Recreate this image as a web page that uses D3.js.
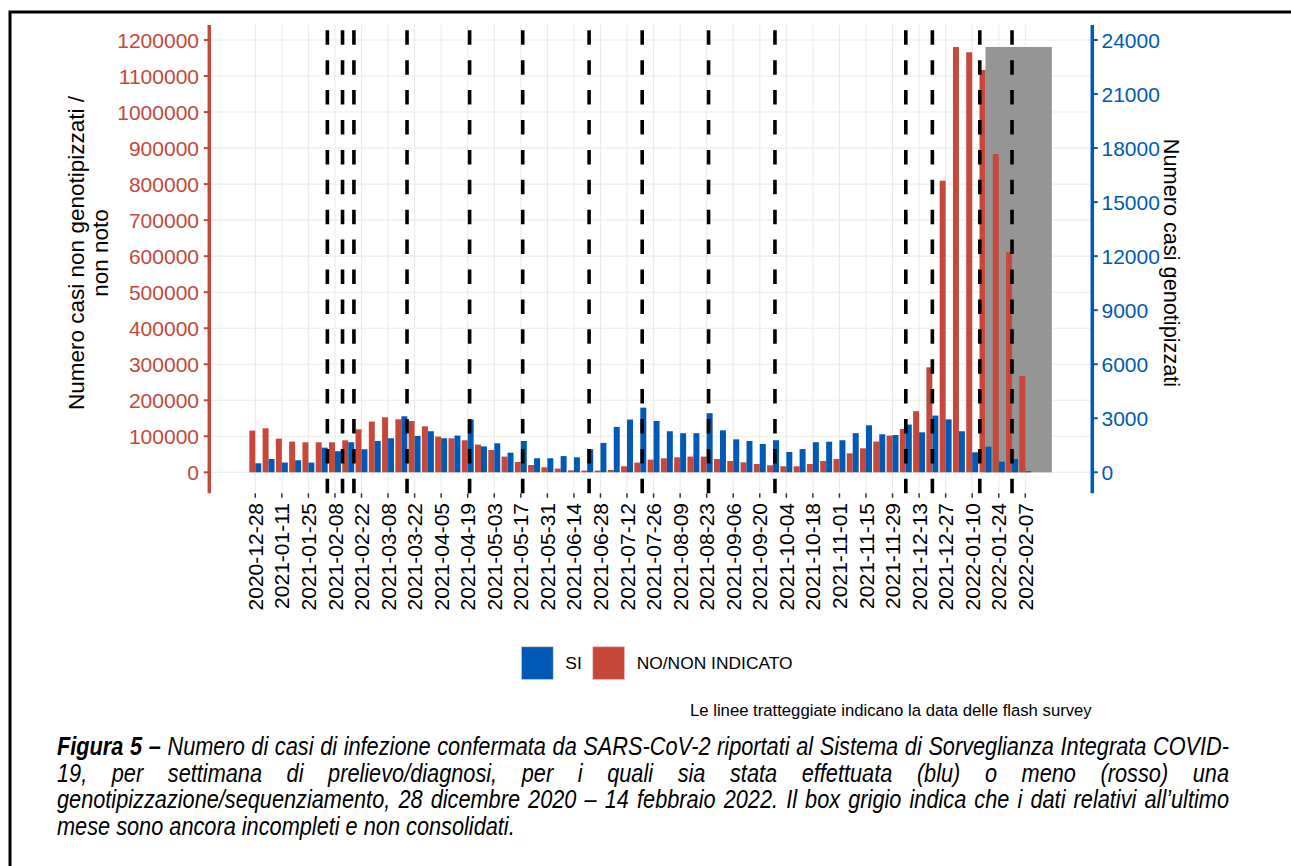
<!DOCTYPE html>
<html>
<head>
<meta charset="utf-8">
<script src="https://cdn.jsdelivr.net/npm/d3@7"></script>
<style>
  body { margin: 0; background: #fff; }
  svg { display: block; }
</style>
</head>
<body>
<svg id="chart" width="1291" height="866"></svg>
<script>
// weekly data, week of sampling / diagnosis
const weeks = [
    "2020-12-28", "2021-01-04", "2021-01-11", "2021-01-18", "2021-01-25", "2021-02-01",
    "2021-02-08", "2021-02-15", "2021-02-22", "2021-03-01", "2021-03-08", "2021-03-15",
    "2021-03-22", "2021-03-29", "2021-04-05", "2021-04-12", "2021-04-19", "2021-04-26",
    "2021-05-03", "2021-05-10", "2021-05-17", "2021-05-24", "2021-05-31", "2021-06-07",
    "2021-06-14", "2021-06-21", "2021-06-28", "2021-07-05", "2021-07-12", "2021-07-19",
    "2021-07-26", "2021-08-02", "2021-08-09", "2021-08-16", "2021-08-23", "2021-08-30",
    "2021-09-06", "2021-09-13", "2021-09-20", "2021-09-27", "2021-10-04", "2021-10-11",
    "2021-10-18", "2021-10-25", "2021-11-01", "2021-11-08", "2021-11-15", "2021-11-22",
    "2021-11-29", "2021-12-06", "2021-12-13", "2021-12-20", "2021-12-27", "2022-01-03",
    "2022-01-10", "2022-01-17", "2022-01-24", "2022-01-31", "2022-02-07"
]
// NO/NON INDICATO (left axis)
const nonGenotyped = [
    115700, 122100, 93500, 85200, 83300, 83300, 83300, 88800, 119400, 140700,
    152700, 147100, 142400, 127700, 99100, 94400, 88800, 76900, 61900, 43600,
    28600, 20300, 13900, 10200, 5500, 4700, 4700, 6400, 16700, 27000,
    35200, 38900, 41600, 43600, 43600, 36900, 31400, 27800, 23000, 19400,
    16700, 16700, 23000, 31400, 36900, 52700, 66600, 85200, 101900, 120200,
    169700, 291500, 809500, 1180600, 1165900, 1116800, 883600, 611500, 267300
]
// SI (right axis)
const genotyped = [
    500, 740, 540, 670, 540, 1370, 1170, 1670, 1280, 1740,
    1890, 3110, 2020, 2280, 1890, 2040, 2930, 1440, 1610, 1090,
    1740, 780, 780, 900, 830, 1280, 1630, 2520, 2930, 3590,
    2850, 2280, 2170, 2170, 3280, 2330, 1830, 1740, 1570, 1780,
    1130, 1290, 1670, 1700, 1780, 2170, 2610, 2110, 2070, 2650,
    2220, 3150, 2940, 2280, 1110, 1420, 590, 740, 60
]
const surveyDates = [
    "2021-02-04", "2021-02-12", "2021-02-18", "2021-03-18", "2021-04-20", "2021-05-18",
    "2021-06-22", "2021-07-20", "2021-08-24", "2021-09-28", "2021-12-06", "2021-12-20",
    "2022-01-14", "2022-01-31"
]
const xTickLabels = weeks.filter((_, i) => i % 2 == 0)
const leftTicks = [0, 100000, 200000, 300000, 400000, 500000, 600000, 700000, 800000, 900000, 1000000, 1100000, 1200000]
const rightTicks = [0, 3000, 6000, 9000, 12000, 15000, 18000, 21000, 24000]
const incompleteBox = ["2022-01-17", "2022-02-21"]

const RED = "#c5483a"
const BLUE = "#005ab5"
const FONT = "'Liberation Sans', Arial, sans-serif"

const parse = d3.timeParse("%Y-%m-%d")

function drawChart() {
    const svg = d3.select("#chart")
    const left = 209.3, right = 1092.3, top = 25, bottom = 493.3

    svg.append("rect").attr("width", 1291).attr("height", 866).attr("fill", "white")

    // frame
    svg.append("path")
        .attr("d", "M10,866 L10,12 L1291,12")
        .attr("fill", "none").attr("stroke", "black").attr("stroke-width", 3)

    const x = d3.scaleTime()
        .domain([parse(weeks[0]), parse(weeks[weeks.length - 1])])
        .range([255.3, 1025.3])
    const yL = d3.scaleLinear().domain([0, 1200000]).range([472.3, 40])
    const yR = d3.scaleLinear().domain([0, 24000]).range([472.3, 40])
    const halfW = (x(parse(weeks[1])) - x(parse(weeks[0]))) * 0.45

    // grid
    svg.append("g").selectAll("line")
        .data(leftTicks)
        .enter().append("line")
        .attr("x1", left).attr("x2", right)
        .attr("y1", d => yL(d)).attr("y2", d => yL(d))
        .attr("stroke", "#ebebe6").attr("stroke-width", 1.1)
    svg.append("g").selectAll("line")
        .data(xTickLabels)
        .enter().append("line")
        .attr("x1", d => x(parse(d))).attr("x2", d => x(parse(d)))
        .attr("y1", top).attr("y2", bottom)
        .attr("stroke", "#ebebe6").attr("stroke-width", 1.1)

    // grey box: last month still incomplete
    svg.append("rect")
        .attr("x", x(parse(incompleteBox[0])))
        .attr("width", x(parse(incompleteBox[1])) - x(parse(incompleteBox[0])))
        .attr("y", yL(d3.max(nonGenotyped)))
        .attr("height", yL(0) - yL(d3.max(nonGenotyped)))
        .attr("fill", "#959595")

    // bars
    svg.append("g").selectAll("rect")
        .data(weeks)
        .enter().append("rect")
        .attr("x", d => x(parse(d)) - halfW)
        .attr("width", halfW)
        .attr("y", (d, i) => yL(nonGenotyped[i]))
        .attr("height", (d, i) => yL(0) - yL(nonGenotyped[i]))
        .attr("fill", RED)
    svg.append("g").selectAll("rect")
        .data(weeks)
        .enter().append("rect")
        .attr("x", d => x(parse(d)))
        .attr("width", halfW)
        .attr("y", (d, i) => yR(genotyped[i]))
        .attr("height", (d, i) => yR(0) - yR(genotyped[i]))
        .attr("fill", BLUE)

    // flash survey dates
    svg.append("g").selectAll("line")
        .data(surveyDates)
        .enter().append("line")
        .attr("x1", d => x(parse(d))).attr("x2", d => x(parse(d)))
        .attr("y1", bottom).attr("y2", top)
        .attr("stroke", "black").attr("stroke-width", 3.6)
        .attr("stroke-dasharray", "14.5,15.4")

    // left axis
    const gl = svg.append("g")
    gl.append("line").attr("x1", left).attr("x2", left).attr("y1", top).attr("y2", bottom)
        .attr("stroke", RED).attr("stroke-width", 3.5)
    gl.selectAll("line.t").data(leftTicks).enter().append("line").attr("class", "t")
        .attr("x1", left - 5.5).attr("x2", left).attr("y1", d => yL(d)).attr("y2", d => yL(d))
        .attr("stroke", RED).attr("stroke-width", 2)
    gl.selectAll("text").data(leftTicks).enter().append("text")
        .attr("x", 199).attr("y", d => yL(d)).attr("dy", "0.36em")
        .attr("text-anchor", "end").attr("fill", RED)
        .style("font", `21px ${FONT}`)
        .text(d => d)

    // right axis
    const gr = svg.append("g")
    gr.append("line").attr("x1", right).attr("x2", right).attr("y1", top).attr("y2", bottom)
        .attr("stroke", BLUE).attr("stroke-width", 3.5)
    gr.selectAll("line.t").data(rightTicks).enter().append("line").attr("class", "t")
        .attr("x1", right).attr("x2", right + 5.5).attr("y1", d => yR(d)).attr("y2", d => yR(d))
        .attr("stroke", BLUE).attr("stroke-width", 2)
    gr.selectAll("text").data(rightTicks).enter().append("text")
        .attr("x", 1101.5).attr("y", d => yR(d)).attr("dy", "0.36em")
        .attr("fill", BLUE)
        .style("font", `21px ${FONT}`)
        .text(d => d)

    // x axis
    const gx = svg.append("g")
    gx.selectAll("line").data(xTickLabels).enter().append("line")
        .attr("x1", d => x(parse(d))).attr("x2", d => x(parse(d)))
        .attr("y1", bottom).attr("y2", bottom + 4.5)
        .attr("stroke", "#333").attr("stroke-width", 1.5)
    gx.selectAll("text").data(xTickLabels).enter().append("text")
        .attr("transform", d => `translate(${x(parse(d))}, 503) rotate(-90)`)
        .attr("dy", "0.36em")
        .attr("text-anchor", "end")
        .attr("fill", "black")
        .style("font", `21px ${FONT}`)
        .text(d => d)

    // axis titles
    const titleL = svg.append("text")
        .attr("transform", "translate(76, 253) rotate(-90)")
        .attr("text-anchor", "middle").attr("fill", "black")
        .style("font", `22.5px ${FONT}`)
    titleL.append("tspan").attr("x", 0).attr("dy", "0.36em").text("Numero casi non genotipizzati /")
    titleL.append("tspan").attr("x", 0).attr("dy", "1.08em").text("non noto")

    svg.append("text")
        .attr("transform", "translate(1172, 263) rotate(90)")
        .attr("text-anchor", "middle").attr("dy", "0.36em").attr("fill", "black")
        .style("font", `21.7px ${FONT}`)
        .text("Numero casi genotipizzati")

    // legend
    const legend = [
        { label: "SI", color: BLUE, x: 521.3 },
        { label: "NO/NON INDICATO", color: RED, x: 592.7 }
    ]
    const lg = svg.append("g").selectAll("g").data(legend).enter().append("g")
        .attr("transform", d => `translate(${d.x}, 646.7)`)
    lg.append("rect").attr("width", 32).attr("height", 33).attr("fill", d => d.color)
        .attr("stroke", "#f0d0cc").attr("stroke-width", 0.8)
    lg.append("text").attr("x", 44).attr("y", 16.5).attr("dy", "0.36em")
        .style("font", `17.4px ${FONT}`).attr("fill", "black")
        .text(d => d.label)

    svg.append("text")
        .attr("x", 690).attr("y", 716)
        .style("font", `16.7px ${FONT}`).attr("fill", "black")
        .text("Le linee tratteggiate indicano la data delle flash survey")

    // caption, justified, condensed like Arial Narrow
    const captionLines = [
        { justify: true, words: [["Figura", true], ["5", true], ["–", true], "Numero", "di", "casi", "di", "infezione", "confermata", "da", "SARS-CoV-2", "riportati", "al", "Sistema", "di", "Sorveglianza", "Integrata", "COVID-"] },
        { justify: true, words: "19, per settimana di prelievo/diagnosi, per i quali sia stata effettuata (blu) o meno (rosso) una".split(" ") },
        { justify: true, words: "genotipizzazione/sequenziamento, 28 dicembre 2020 – 14 febbraio 2022. Il box grigio indica che i dati relativi all’ultimo".split(" ") },
        { justify: false, words: "mese sono ancora incompleti e non consolidati.".split(" ") }
    ]
    const capX0 = 57, capX1 = 1229, capSize = 25
    // horizontal squeeze, from width of the last (unjustified) line
    const probe = svg.append("text").style("font", `italic ${capSize}px ${FONT}`)
        .text(captionLines[3].words.join(" "))
    const sx = 458 / probe.node().getComputedTextLength()
    probe.remove()

    captionLines.forEach((line, li) => {
        const g = svg.append("g").attr("transform", `translate(${capX0}, ${755 + li * 26.6}) scale(${sx}, 1)`)
        const items = line.words.map(w => Array.isArray(w) ? { t: w[0], b: w[1] } : { t: w, b: false })
        const texts = items.map(it => g.append("text")
            .attr("fill", "black")
            .style("font", `italic ${it.b ? "bold " : ""}${capSize}px ${FONT}`)
            .text(it.t))
        const widths = texts.map(t => t.node().getComputedTextLength())
        const total = d3.sum(widths)
        const avail = (capX1 - capX0) / sx
        const gap = line.justify ? (avail - total) / (items.length - 1) : capSize * 0.278
        let cx = 0
        texts.forEach((t, i) => {
            t.attr("x", cx)
            cx += widths[i] + gap
        })
    })
}
drawChart()
</script>
</body>
</html>
